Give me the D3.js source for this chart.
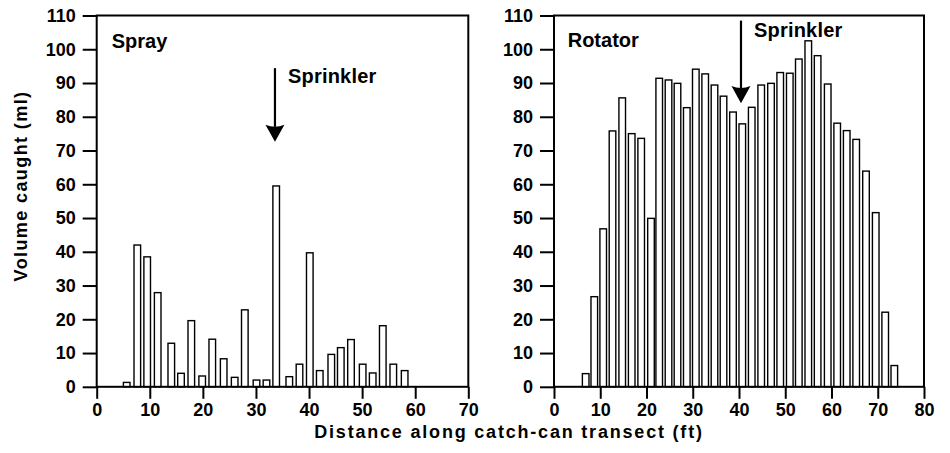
<!DOCTYPE html>
<html>
<head>
<meta charset="utf-8">
<script src="https://cdn.jsdelivr.net/npm/d3@7/dist/d3.min.js"></script>
<style>
  html, body { margin: 0; padding: 0; background: #fff; }
  svg { display: block; }
  text { font-family: "Liberation Sans", Arial, Helvetica, sans-serif; font-weight: bold; fill: #000; }
</style>
</head>
<body>
<svg id="chart" width="950" height="453"></svg>
<script>
// ---- Data ----
const yTicks = [0, 10, 20, 30, 40, 50, 60, 70, 80, 90, 100, 110];
const sprayTicks = [0, 10, 20, 30, 40, 50, 60, 70];
const rotatorTicks = [0, 10, 20, 30, 40, 50, 60, 70, 80];

// Spray panel: distance (ft) and volume (ml)
const sprayX = [5.65, 7.65, 9.51, 11.49, 14.05, 15.88, 17.82, 19.87, 21.77, 23.92, 25.99, 27.9, 30.1, 31.98, 33.81, 36.28, 38.2, 40.14, 42.02, 44.19, 45.98, 47.9, 50.1, 51.99, 53.89, 55.87, 58.01];
const sprayVol = [1.3, 42.0, 38.5, 27.9, 12.9, 4.0, 19.6, 3.2, 14.1, 8.3, 2.8, 22.8, 2.0, 2.0, 59.5, 3.0, 6.7, 39.7, 4.8, 9.6, 11.6, 14.0, 6.7, 4.1, 18.1, 6.7, 4.8];

// Rotator panel
const rotatorX = [6.85, 8.71, 10.64, 12.65, 14.75, 16.8, 18.85, 20.97, 22.75, 24.76, 26.7, 28.71, 30.66, 32.69, 34.7, 36.65, 38.7, 40.71, 42.75, 44.8, 46.92, 48.91, 50.98, 52.93, 54.98, 57.0, 59.18, 61.23, 63.29, 65.34, 67.46, 69.56, 71.61, 73.58];
const rotatorVol = [3.9, 26.7, 46.8, 75.8, 85.6, 75.0, 73.6, 49.9, 91.4, 90.9, 89.9, 82.7, 94.1, 92.7, 89.4, 86.1, 81.4, 77.9, 82.8, 89.4, 89.9, 93.1, 92.9, 97.1, 102.5, 98.1, 89.7, 78.1, 75.9, 73.3, 63.9, 51.6, 22.1, 6.3];

// Sprinkler arrows: [x (ft), top (ml), head base (ml), tip (ml)]
const sprayArrow = [33.58, 94.4, 77.6, 72.6];
const rotatorArrow = [40.43, 108.5, 89.1, 84.0];

const panelTitles = ["Spray", "Rotator"];
const annotationText = "Sprinkler";
const yTitle = "Volume caught (ml)";
const xTitle = "Distance along catch-can transect (ft)";

// ---- Layout ----
const svg = d3.select("#chart");
const plotTop = 15.5, plotBottom = 386.8;
const y = d3.scaleLinear().domain([0, 110]).range([plotBottom, plotTop]);

const panels = [
  { title: panelTitles[0], xs: sprayX, vs: sprayVol, ticks: sprayTicks, max: 70, range: [96.7, 468.3], arrow: sprayArrow, titleDx: 15, titleY: 48.3, annDx: 13, annDy: 15 },
  { title: panelTitles[1], xs: rotatorX, vs: rotatorVol, ticks: rotatorTicks, max: 80, range: [554, 924], arrow: rotatorArrow, titleDx: 13.7, titleY: 46.7, annDx: 13, annDy: 16 }
];

const barW = 6.6;

panels.forEach(p => {
  const x = d3.scaleLinear().domain([0, p.max]).range(p.range);
  const g = svg.append("g");

  // bars
  const data = p.xs.map((d, i) => ({ x: d, v: p.vs[i] }));
  g.selectAll("rect.bar").data(data).enter().append("rect")
    .attr("class", "bar")
    .attr("x", d => x(d.x) - barW / 2)
    .attr("y", d => y(d.v))
    .attr("width", barW)
    .attr("height", d => y(0) - y(d.v))
    .attr("fill", "#fff")
    .attr("stroke", "#000")
    .attr("stroke-width", 1.4);

  // axes
  const ay = g.append("g")
    .attr("transform", `translate(${p.range[0]},0)`)
    .call(d3.axisLeft(y).tickValues(yTicks).tickSize(14).tickPadding(7).tickFormat(d3.format("d")));
  const ax = g.append("g")
    .attr("transform", `translate(0,${plotBottom})`)
    .call(d3.axisBottom(x).tickValues(p.ticks).tickSize(12).tickPadding(4).tickFormat(d3.format("d")));
  [ay, ax].forEach(a => {
    a.select(".domain").remove();
    a.attr("font-size", null).attr("font-family", null);
    a.selectAll("line").attr("stroke", "#000").attr("stroke-width", 2);
    a.selectAll("text").attr("font-size", 18).attr("fill", "#000");
  });

  // frame
  g.append("rect")
    .attr("x", p.range[0]).attr("y", plotTop)
    .attr("width", p.range[1] - p.range[0]).attr("height", plotBottom - plotTop)
    .attr("fill", "none").attr("stroke", "#000").attr("stroke-width", 2);

  // panel title
  g.append("text")
    .attr("x", p.range[0] + p.titleDx).attr("y", p.titleY)
    .attr("font-size", 20).text(p.title);

  // arrow
  const [axv, aTop, aBase, aTip] = p.arrow;
  const px = x(axv);
  g.append("line")
    .attr("x1", px).attr("x2", px)
    .attr("y1", y(aTop)).attr("y2", y(aBase) + 2)
    .attr("stroke", "#000").attr("stroke-width", 2.2);
  g.append("path")
    .attr("d", `M${px - 9.5},${y(aBase)} Q${px},${y(aBase) + 4} ${px + 9.5},${y(aBase)} L${px},${y(aTip)} Z`)
    .attr("fill", "#000");
  g.append("text")
    .attr("x", px + p.annDx).attr("y", y(aTop) + p.annDy)
    .attr("font-size", 20).attr("letter-spacing", 0.2).text(annotationText);
});

// axis titles
svg.append("text")
  .attr("transform", "translate(27,186) rotate(-90)")
  .attr("text-anchor", "middle")
  .attr("font-size", 18)
  .attr("letter-spacing", 1.4)
  .text(yTitle);

svg.append("text")
  .attr("x", 509).attr("y", 437.5)
  .attr("text-anchor", "middle")
  .attr("font-size", 18)
  .attr("letter-spacing", 1.8)
  .text(xTitle);
</script>
</body>
</html>
